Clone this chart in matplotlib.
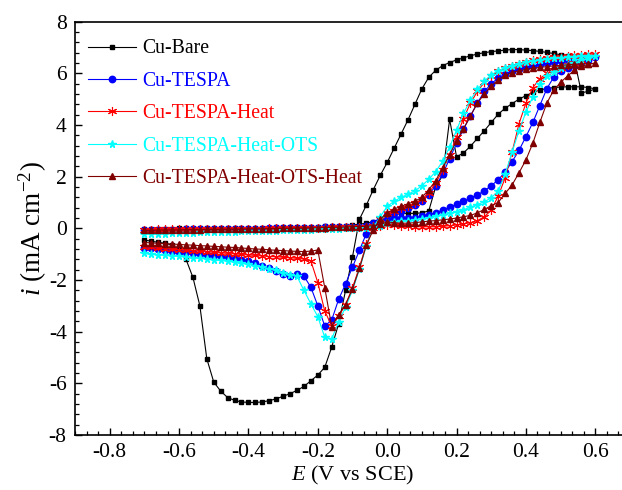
import matplotlib
matplotlib.use("Agg")
import matplotlib.pyplot as plt
from matplotlib.ticker import MultipleLocator

plt.rcParams['font.family'] = ['Liberation Serif', 'DejaVu Serif']
plt.rcParams['mathtext.fontset'] = 'custom'
plt.rcParams['mathtext.rm'] = 'Liberation Serif'
plt.rcParams['mathtext.it'] = 'Liberation Serif:italic'
plt.rcParams['axes.unicode_minus'] = False

# Potential sweep grid (V vs SCE): forward -0.70 -> 0.60, reverse 0.58 -> -0.70
E_FWD = [-0.70, -0.68, -0.66, -0.64, -0.62, -0.60, -0.58, -0.56, -0.54, -0.52,
         -0.50, -0.48, -0.46, -0.44, -0.42, -0.40, -0.38, -0.36, -0.34, -0.32,
         -0.30, -0.28, -0.26, -0.24, -0.22, -0.20, -0.18, -0.16, -0.14, -0.12,
         -0.10, -0.08, -0.06, -0.04, -0.02, 0.00, 0.02, 0.04, 0.06, 0.08,
         0.10, 0.12, 0.14, 0.16, 0.18, 0.20, 0.22, 0.24, 0.26, 0.28,
         0.30, 0.32, 0.34, 0.36, 0.38, 0.40, 0.42, 0.44, 0.46, 0.48,
         0.50, 0.52, 0.54, 0.56, 0.58, 0.60]
E_REV = E_FWD[-2::-1]

labels = ["Cu-Bare", "Cu-TESPA", "Cu-TESPA-Heat", "Cu-TESPA-Heat-OTS", "Cu-TESPA-Heat-OTS-Heat"]

# Current density (mA cm-2)
bare_fwd = [-0.45, -0.50, -0.54, -0.58, -0.64, -0.85, -1.20, -1.90, -3.00, -5.05,
            -5.95, -6.30, -6.55, -6.66, -6.72, -6.74, -6.74, -6.72, -6.67, -6.60,
            -6.50, -6.40, -6.27, -6.12, -5.90, -5.68, -5.38, -4.60, -3.70, -2.40,
            -1.10, 0.35, 0.90, 1.50, 2.05, 2.55, 3.10, 3.65, 4.20, 4.80,
            5.40, 5.85, 6.12, 6.30, 6.42, 6.52, 6.60, 6.68, 6.75, 6.80,
            6.84, 6.87, 6.90, 6.92, 6.92, 6.90, 6.88, 6.85, 6.81, 6.77,
            6.72, 6.66, 6.50, 5.25, 5.30, 5.40]
bare_rev = [5.45, 5.48, 5.48, 5.48, 5.47, 5.45, 5.41, 5.36, 5.26, 5.14,
            5.00, 4.83, 4.65, 4.42, 4.10, 3.78, 3.48, 3.18, 2.92, 2.77,
            4.22, 2.05, 1.62, 0.68, 0.60, 0.58, 0.58, 0.58, 0.52, 0.44,
            0.34, 0.26, 0.20, 0.16, 0.13, 0.11, 0.10, 0.09, 0.08, 0.07,
            0.06, 0.06, 0.05, 0.05, 0.04, 0.04, 0.03, 0.03, 0.03, 0.02,
            0.02, 0.02, 0.01, 0.01, 0.01, 0.00, 0.00, 0.00, 0.00, 0.00,
            -0.01, -0.01, -0.01, -0.02, -0.02]

tespa_fwd = [-0.75, -0.78, -0.81, -0.84, -0.87, -0.90, -0.93, -0.96, -0.99, -1.02,
             -1.05, -1.09, -1.13, -1.17, -1.22, -1.27, -1.35, -1.44, -1.54, -1.65,
             -1.78, -1.86, -1.76, -1.85, -2.28, -3.00, -3.78, -3.55, -2.75, -2.15,
             -1.50, -0.85, -0.20, 0.20, 0.38, 0.50, 0.60, 0.68, 0.78, 0.90,
             1.05, 1.30, 1.65, 2.10, 2.70, 3.30, 3.85, 4.35, 4.85, 5.30,
             5.60, 5.82, 5.97, 6.08, 6.17, 6.25, 6.30, 6.35, 6.40, 6.45,
             6.49, 6.52, 6.55, 6.58, 6.60, 6.62]
tespa_rev = [6.52, 6.44, 6.34, 6.22, 6.08, 5.85, 5.40, 4.75, 4.10, 3.55,
             3.02, 2.58, 2.18, 1.88, 1.65, 1.45, 1.30, 1.17, 1.04, 0.93,
             0.82, 0.71, 0.60, 0.52, 0.46, 0.42, 0.40, 0.40, 0.40, 0.32,
             0.15, 0.10, 0.08, 0.07, 0.06, 0.05, 0.05, 0.04, 0.04, 0.03,
             0.03, 0.02, 0.02, 0.01, 0.01, 0.00, 0.00, -0.01, -0.01, -0.01,
             -0.02, -0.02, -0.02, -0.03, -0.03, -0.03, -0.04, -0.04, -0.04, -0.05,
             -0.05, -0.05, -0.06, -0.06, -0.06]

heat_fwd = [-0.72, -0.74, -0.77, -0.79, -0.81, -0.83, -0.85, -0.87, -0.89, -0.91,
            -0.93, -0.95, -0.97, -0.99, -1.01, -1.03, -1.05, -1.07, -1.09, -1.10,
            -1.12, -1.14, -1.16, -1.19, -1.26, -2.10, -3.20, -3.78, -3.40, -2.95,
            -2.30, -1.50, -0.62, 0.00, 0.35, 0.58, 0.68, 0.78, 0.88, 0.98,
            1.12, 1.38, 1.75, 2.25, 2.85, 3.55, 4.25, 4.85, 5.30, 5.65,
            5.90, 6.08, 6.20, 6.30, 6.38, 6.45, 6.50, 6.55, 6.59, 6.62,
            6.65, 6.68, 6.70, 6.72, 6.74, 6.75]
heat_rev = [6.62, 6.52, 6.42, 6.32, 6.22, 6.12, 6.00, 5.80, 5.45, 4.85,
            4.05, 2.95, 1.95, 1.25, 0.70, 0.45, 0.30, 0.22, 0.17, 0.13,
            0.10, 0.08, 0.06, 0.06, 0.06, 0.07, 0.08, 0.10, 0.12, 0.12,
            0.10, 0.08, 0.07, 0.06, 0.05, 0.05, 0.04, 0.04, 0.03, 0.03,
            0.02, 0.02, 0.01, 0.01, 0.00, 0.00, 0.00, -0.01, -0.01, -0.01,
            -0.01, -0.02, -0.02, -0.02, -0.02, -0.03, -0.03, -0.03, -0.03, -0.04,
            -0.04, -0.04, -0.04, -0.05, -0.05]

ots_fwd = [-0.97, -1.00, -1.02, -1.04, -1.06, -1.08, -1.11, -1.13, -1.16, -1.18,
           -1.21, -1.24, -1.27, -1.31, -1.35, -1.39, -1.44, -1.50, -1.56, -1.63,
           -1.71, -1.79, -1.86, -2.40, -2.92, -3.42, -4.22, -4.28, -3.62, -3.05,
           -2.40, -1.58, -0.68, 0.05, 0.45, 0.85, 1.05, 1.20, 1.32, 1.45,
           1.65, 1.90, 2.20, 2.60, 3.15, 3.80, 4.45, 4.97, 5.38, 5.70,
           5.95, 6.10, 6.20, 6.30, 6.37, 6.43, 6.48, 6.52, 6.55, 6.58,
           6.60, 6.62, 6.64, 6.66, 6.68, 6.68]
ots_rev = [6.58, 6.50, 6.41, 6.31, 6.20, 6.06, 5.88, 5.60, 5.10, 4.50,
           3.78, 2.95, 2.10, 1.45, 1.18, 1.03, 0.92, 0.82, 0.72, 0.64,
           0.58, 0.52, 0.47, 0.42, 0.37, 0.33, 0.30, 0.28, 0.26, 0.20,
           0.10, 0.05, 0.03, 0.02, 0.01, 0.00, -0.01, -0.02, -0.03, -0.04,
           -0.05, -0.06, -0.07, -0.07, -0.08, -0.09, -0.10, -0.10, -0.11, -0.12,
           -0.12, -0.13, -0.14, -0.14, -0.15, -0.16, -0.16, -0.17, -0.18, -0.18,
           -0.19, -0.20, -0.20, -0.21, -0.22]

otsheat_fwd = [-0.55, -0.56, -0.58, -0.59, -0.61, -0.62, -0.64, -0.65, -0.67, -0.68,
               -0.70, -0.71, -0.73, -0.74, -0.76, -0.78, -0.80, -0.81, -0.83, -0.85,
               -0.86, -0.88, -0.89, -0.90, -0.88, -0.84, -2.30, -3.80, -3.35, -2.95,
               -2.35, -1.55, -0.65, -0.05, 0.35, 0.60, 0.75, 0.85, 0.95, 1.05,
               1.20, 1.50, 1.85, 2.35, 2.85, 3.40, 3.85, 4.35, 4.85, 5.20,
               5.50, 5.75, 5.92, 6.03, 6.10, 6.15, 6.20, 6.23, 6.26, 6.29,
               6.31, 6.33, 6.35, 6.37, 6.38, 6.39]
otsheat_rev = [6.35, 6.27, 6.12, 5.90, 5.65, 5.35, 4.84, 4.10, 3.30, 2.65,
               2.15, 1.68, 1.35, 1.00, 0.88, 0.73, 0.60, 0.50, 0.45, 0.40,
               0.36, 0.33, 0.30, 0.28, 0.25, 0.22, 0.20, 0.20, 0.22, 0.25,
               0.15, 0.10, 0.08, 0.07, 0.06, 0.05, 0.04, 0.04, 0.03, 0.02,
               0.02, 0.01, 0.01, 0.00, 0.00, -0.01, -0.01, -0.02, -0.02, -0.02,
               -0.03, -0.03, -0.03, -0.04, -0.04, -0.04, -0.05, -0.05, -0.05, -0.06,
               -0.06, -0.06, -0.07, -0.07, -0.08]

series = [
    (bare_fwd, bare_rev, dict(color='black', marker='s', markersize=3.2)),
    (tespa_fwd, tespa_rev, dict(color='#0000ff', marker='o', markersize=4.6)),
    (heat_fwd, heat_rev, dict(color='#ff0000', marker=(6, 2, 0), markersize=6.5, markeredgewidth=0.8)),
    (ots_fwd, ots_rev, dict(color='#00ffff', marker='*', markersize=5.5)),
    (otsheat_fwd, otsheat_rev, dict(color='#800000', marker='^', markersize=4.6)),
]

fig = plt.figure(figsize=(6.22, 4.9), dpi=100)
ax = fig.add_axes([75 / 622, 55 / 490, 555 / 622, 413.3 / 490])

handles = []
for k, (fwd, rev, style) in enumerate(series):
    x = E_FWD + E_REV
    y = fwd + rev
    h, = ax.plot(x, y, linestyle='-', linewidth=0.8, label=labels[k],
                 zorder=2 + k, **style)
    handles.append(h)

ax.set_xlim(-0.9, 0.7)
ax.set_ylim(-8, 8)
ax.xaxis.set_major_locator(MultipleLocator(0.2))
ax.xaxis.set_minor_locator(MultipleLocator(0.2 / 6))
ax.yaxis.set_major_locator(MultipleLocator(2))
ax.yaxis.set_minor_locator(MultipleLocator(0.4))
ax.set_xticks([-0.8, -0.6, -0.4, -0.2, 0.0, 0.2, 0.4, 0.6])
ax.set_xticklabels(["-0.8", "-0.6", "-0.4", "-0.2", "0.0", "0.2", "0.4", "0.6"])
ax.set_yticks([-8, -6, -4, -2, 0, 2, 4, 6, 8])
ax.set_yticklabels(["-8", "-6", "-4", "-2", "0", "2", "4", "6", "8"])
ax.tick_params(axis='both', which='major', direction='in', length=5, width=1.0,
               labelsize=15.5, top=False, right=False, pad=6)
ax.tick_params(axis='both', which='minor', direction='in', length=3, width=0.9,
               top=False, right=False)
for sp in ax.spines.values():
    sp.set_linewidth(1.2)

ax.set_xlabel(r"$E$ (V vs SCE)", fontsize=16, labelpad=1)
ax.set_ylabel(r"$i$ (mA cm$^{-2}$)", fontsize=19.5, labelpad=0)

leg = ax.legend(handles=handles, loc='upper left', bbox_to_anchor=(0.024, 0.957),
                frameon=False, fontsize=14.2, numpoints=1, handlelength=2.4,
                handletextpad=0.35, labelspacing=0.68, borderaxespad=0, borderpad=0)
for txt, (_, _, style) in zip(leg.get_texts(), series):
    txt.set_color(style['color'])

fig.savefig("out.png", dpi=100)
